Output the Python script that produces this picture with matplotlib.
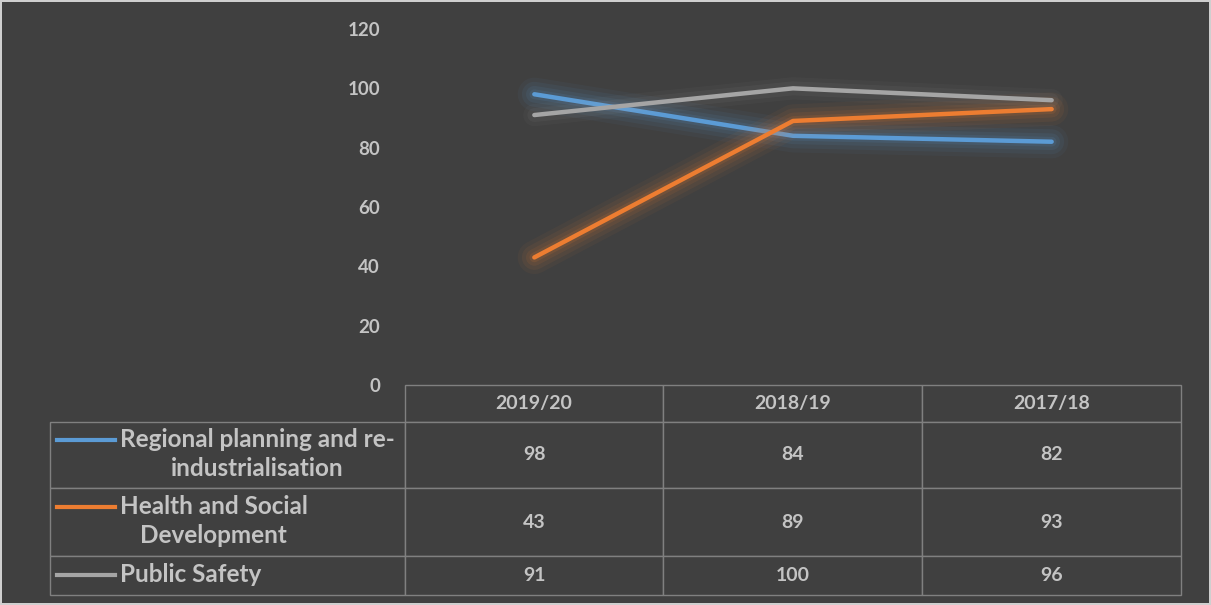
import matplotlib
matplotlib.use('Agg')
import matplotlib.pyplot as plt
import numpy as np
from matplotlib.table import Table

# data
years = ['2019/20', '2018/19', '2017/18']
regional = [98, 84, 82]
health = [43, 89, 93]
safety = [91, 100, 96]
series_names = ['Regional planning and re-\nindustrialisation',
                'Health and Social\nDevelopment',
                'Public Safety']
yticks = [0, 20, 40, 60, 80, 100, 120]

colors = ['#5B9BD5', '#ED7D31', '#A5A5A5']
bg = '#404040'
txt = '#c4c4c4'
grid = '#808080'

plt.rcParams['font.family'] = ['Lato', 'DejaVu Sans']
plt.rcParams['font.weight'] = 'bold'

W, H = 1211, 605
fig = plt.figure(figsize=(W / 100, H / 100), dpi=100, facecolor=bg,
                 edgecolor='#cfcfcf', linewidth=1.5)

# plot area in pixels: x 405..1181, y 29..385
ax = fig.add_axes([405 / W, 1 - 385 / H, 776 / W, 356 / H])
ax.set_facecolor(bg)


def ax_x(px):
    return (px - 405) / 776


def ax_y(py):
    return (385 - py) / 356


x = np.arange(len(years))
for vals, c in zip([regional, health, safety], colors):
    if c != '#A5A5A5':
        # soft glow round the coloured lines
        for w, a in [(24, 0.05), (18, 0.07), (12, 0.09), (7, 0.12)]:
            ax.plot(x, vals, color=c, lw=w, alpha=a, solid_capstyle='round',
                    solid_joinstyle='round')
    else:
        for w, a in [(16, 0.04), (10, 0.06)]:
            ax.plot(x, vals, color='#bbbbbb', lw=w, alpha=a, solid_capstyle='round',
                    solid_joinstyle='round')
    ax.plot(x, vals, color=c, lw=3.2, solid_capstyle='round', solid_joinstyle='round')

ax.set_xlim(-0.5, len(years) - 0.5)
ax.set_ylim(0, 120)
ax.set_yticks(yticks)
ax.set_xticks([])
ax.tick_params(axis='y', length=0, pad=18, labelcolor=txt, labelsize=13.5)
for s in ax.spines.values():
    s.set_visible(False)

# data table under the plot
row_h = [37, 66, 68, 39]
col_w = [355] + [259] * len(years)
tbl = Table(ax, bbox=[ax_x(50), ax_y(595), ax_x(1181) - ax_x(50), ax_y(385) - ax_y(595)])
for j, yr in enumerate(years):
    tbl.add_cell(0, j + 1, width=col_w[j + 1], height=row_h[0], text=yr,
                 loc='center', facecolor=bg, edgecolor=grid)
rows = [regional, health, safety]
for i, vals in enumerate(rows):
    tbl.add_cell(i + 1, 0, width=col_w[0], height=row_h[i + 1], text='',
                 facecolor=bg, edgecolor=grid)
    for j, v in enumerate(vals):
        tbl.add_cell(i + 1, j + 1, width=col_w[j + 1], height=row_h[i + 1],
                     text=str(v), loc='center', facecolor=bg, edgecolor=grid)
tbl.auto_set_font_size(False)
for cell in tbl.get_celld().values():
    cell.set_linewidth(1)
    cell.get_text().set(color=txt, fontsize=14, fontweight='bold')
tbl.set_clip_on(False)
ax.add_table(tbl)

# row labels with legend keys
row_mid = [454, 521, 575]
key_y = [440, 507, 575]
for name, c, ym, ky in zip(series_names, colors, row_mid, key_y):
    ax.plot([ax_x(57), ax_x(115)], [ax_y(ky), ax_y(ky)], color=c, lw=3,
            transform=ax.transAxes, clip_on=False)
    ax.text(ax_x(120), ax_y(ym), name, transform=ax.transAxes, ha='left',
            va='center', multialignment='center', color=txt, fontsize=17.5,
            fontweight='bold', linespacing=1.28)

fig.savefig('out.png', dpi=100, facecolor=bg, edgecolor='#cfcfcf')
